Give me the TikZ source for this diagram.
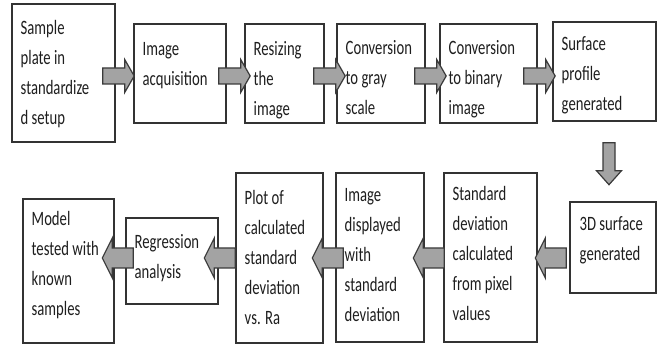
\documentclass[tikz,border=0pt]{standalone}
\usepackage{fontspec}
\setmainfont{Carlito}[FakeStretch=0.72]
\usetikzlibrary{calc,fit}

\definecolor{boxline}{HTML}{333333}
\definecolor{arrowfill}{HTML}{A3A3A3}
\definecolor{arrowline}{HTML}{3A3A3A}
\definecolor{inktext}{HTML}{1E1E1E}

% fixed height for the first line of every caption
\newcommand\stagestrut{\rule{0pt}{10pt}}

% block arrows, drawn from the middle of the tail
\newcommand\arrowright[1]{%
  \draw[blockarrow] #1 ++(0,-8) -- ++(22,0) -- ++(0,-8.5) -- ++(9.5,16.5)
    -- ++(-9.5,16.5) -- ++(0,-8.5) -- ++(-22,0) -- cycle;}
\newcommand\arrowleft[1]{%
  \draw[blockarrow] #1 ++(0,-10) -- ++(-21,0) -- ++(0,-10) -- ++(-10,20)
    -- ++(10,20) -- ++(0,-10) -- ++(21,0) -- cycle;}
\newcommand\arrowdown[1]{%
  \draw[blockarrow] #1 ++(-6,0) -- ++(0,28) -- ++(-6.5,0) -- ++(12.5,14)
    -- ++(12.5,-14) -- ++(-6.5,0) -- ++(0,-28) -- cycle;}

\tikzset{
  stage/.style={draw=boxline, line width=0.7pt, fill=white, inner sep=0pt},
  caption/.style={anchor=north west, inner sep=0pt, align=left, text=inktext,
    font=\fontsize{10.2}{15}\selectfont},
  blockarrow/.style={draw=arrowline, fill=arrowfill, line width=0.6pt, line join=miter},
}

\begin{document}
\begin{tikzpicture}[x=0.5pt, y=-0.5pt]
\fill[white] (0,0) rectangle (666,347);
\useasboundingbox (0,0) rectangle (666,347);

\coordinate (rowtop) at (0,76);
\coordinate (rowbot) at (0,258);

% top row of stages
\node[stage, fit={(12,4) (115,142)}]   (b1) {};
\node[stage, fit={(134,24) (226,123)}] (b2) {};
\node[stage, fit={(245,24) (324,123)}] (b3) {};
\node[stage, fit={(337,24) (425,123)}] (b4) {};
\node[stage, fit={(440,24) (537,123)}] (b5) {};
\node[stage, fit={(553,22) (656,121)}] (b6) {};

% bottom row of stages
\node[stage, fit={(570,202) (656,293)}] (b7) {};
\node[stage, fit={(444,173) (537,342)}] (b8) {};
\node[stage, fit={(336,173) (424,342)}] (b9) {};
\node[stage, fit={(236,173) (323,343)}] (b10) {};
\node[stage, fit={(126,218) (218,304)}] (b11) {};
\node[stage, fit={(23,199) (114,343)}]  (b12) {};

% connectors
\arrowright{($(b1.east|-rowtop)+(-13,0)$)}
\arrowright{($(b2.east|-rowtop)+(-8,0)$)}
\arrowright{($(b3.east|-rowtop)+(-11,0)$)}
\arrowright{($(b4.east|-rowtop)+(-11,0)$)}
\arrowright{($(b5.east|-rowtop)+(-14,0)$)}
\arrowdown{($(b6.south)+(4.5,21)$)}
\arrowleft{($(b7.west|-rowbot)+(-3,0)$)}
\arrowleft{($(b8.west|-rowbot)+(1,0)$)}
\arrowleft{($(b9.west|-rowbot)+(8,0)$)}
\arrowleft{($(b10.west|-rowbot)+(0,0)$)}
\arrowleft{($(b11.west|-rowbot)+(8,0)$)}

% captions
\node[caption] (t1) at ($(b1.north west)+(9,11)$) {\stagestrut Sample\\plate in\\standardize\\d setup};
\node[caption] (t2) at ($(b2.north west)+(9,12)$) {\stagestrut Image\\acquisition};
\node[caption] (t3) at ($(b3.north west)+(9,12)$) {\stagestrut Resizing\\the\\image};
\node[caption] (t4) at ($(b4.north west)+(9,11)$) {\stagestrut Conversion\\to gray\\scale};
\node[caption] (t5) at ($(b5.north west)+(9,11)$) {\stagestrut Conversion\\to binary\\image};
\node[caption] (t6) at ($(b6.north west)+(9,9)$) {\stagestrut Surface\\profile\\generated};
\node[caption] (t7) at ($(b7.north west)+(10,9)$) {\stagestrut 3D surface\\generated};
\node[caption] (t8) at ($(b8.north west)+(9,8)$) {\stagestrut Standard\\deviation\\calculated\\from pixel\\values};
\node[caption] (t9) at ($(b9.north west)+(9,9)$) {\stagestrut Image\\displayed\\with\\standard\\deviation};
\node[caption] (t10) at ($(b10.north west)+(9,12)$) {\stagestrut Plot of\\calculated\\standard\\deviation\\vs. Ra};
\node[caption] (t11) at ($(b11.north west)+(9,11)$) {\stagestrut Regression\\analysis};
\node[caption] (t12) at ($(b12.north west)+(9,7)$) {\stagestrut Model\\tested with\\known\\samples};
\end{tikzpicture}
\end{document}
